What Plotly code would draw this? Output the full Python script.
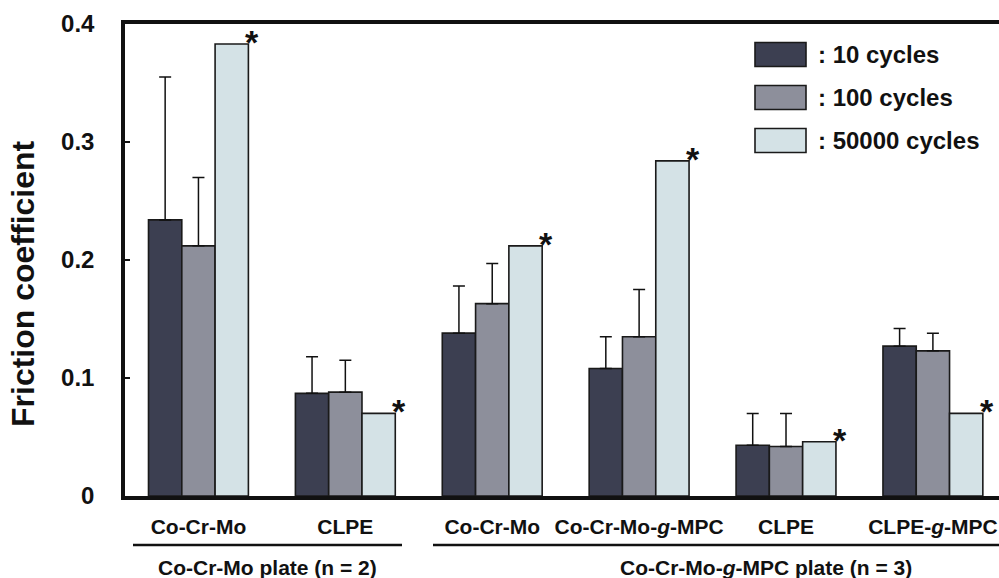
import plotly.graph_objects as go

# ---------------- data ----------------
categories = ["Co-Cr-Mo", "CLPE", "Co-Cr-Mo", "Co-Cr-Mo-<i>g</i>-MPC", "CLPE", "CLPE-<i>g</i>-MPC"]
series_names = [": 10 cycles", ": 100 cycles", ": 50000 cycles"]
cycles10 = [0.234, 0.087, 0.138, 0.108, 0.043, 0.127]
cycles10_err = [0.121, 0.031, 0.040, 0.027, 0.027, 0.015]
cycles100 = [0.212, 0.088, 0.163, 0.135, 0.042, 0.123]
cycles100_err = [0.058, 0.027, 0.034, 0.040, 0.028, 0.015]
cycles50000 = [0.383, 0.070, 0.212, 0.284, 0.046, 0.070]
significant = [True, True, True, True, True, True]
y_ticks = [0, 0.1, 0.2, 0.3, 0.4]
y_tick_labels = ["0", "0.1", "0.2", "0.3", "0.4"]
group_labels = ["Co-Cr-Mo plate (n = 2)", "Co-Cr-Mo-<i>g</i>-MPC plate (n = 3)"]

colors = ["#3c3f51", "#8d8f9b", "#d4e2e6"]
FONT = "Arial, 'Liberation Sans', Helvetica, sans-serif"
TXT = "#111111"

# plot-area pixel frame (for decorations)
L, R, T, B = 125, 999, 24, 496
W, H = 999, 578
def px(x):
    return (x - L) / (R - L)
def py(y):
    return (B - y) / (B - T)

xs = list(range(len(categories)))

fig = go.Figure()
vals = [cycles10, cycles100, cycles50000]
errs = [cycles10_err, cycles100_err, None]
for name, v, e, c in zip(series_names, vals, errs, colors):
    kw = {}
    if e is not None:
        kw["error_y"] = dict(type="data", symmetric=False, array=e,
                             arrayminus=[0] * len(e), color="#111111",
                             thickness=1.5, width=6)
    fig.add_trace(go.Bar(x=xs, y=v, name=name, marker=dict(color=c, line=dict(color="#1a1a1a", width=1.6)),
                         showlegend=False, hoverinfo="skip", **kw))

fig.update_layout(
    width=W, height=H,
    margin=dict(l=L, r=W - R, t=T, b=H - B),
    paper_bgcolor="white", plot_bgcolor="white",
    barmode="group", bargap=0.32, bargroupgap=0,
    font=dict(family=FONT, color=TXT),
    xaxis=dict(range=[-0.5, 5.45], tickvals=xs, ticktext=categories,
               showgrid=False, zeroline=False, showline=True, linewidth=3.5,
               linecolor="#111111", mirror=True, ticks="",
               tickfont=dict(size=21, family=FONT, color=TXT, weight="bold"),
               ticklabelstandoff=9),
    yaxis=dict(range=[0, 0.4], tickvals=y_ticks, ticktext=y_tick_labels,
               showgrid=False, zeroline=False, showline=True, linewidth=3.5,
               linecolor="#111111", ticks="inside", ticklen=5, tickwidth=2,
               tickcolor="#111111",
               tickfont=dict(size=24, family=FONT, color=TXT, weight="bold"),
               ticklabelstandoff=22),
)

# significance asterisks
for i, (v, s) in enumerate(zip(cycles50000, significant)):
    if s:
        fig.add_annotation(x=xs[i], y=v, xref="x", yref="y", text="<b>*</b>",
                           showarrow=False, xshift=54, yshift=2, yanchor="middle",
                           font=dict(size=34, family=FONT, color=TXT))

# y-axis title
fig.add_annotation(x=px(23), y=py(284), xref="paper", yref="paper",
                   text="<b>Friction coefficient</b>", textangle=-90, showarrow=False,
                   xanchor="center", yanchor="middle",
                   font=dict(size=32, family=FONT, color=TXT))

# group brackets
fig.add_shape(type="line", xref="paper", yref="paper", x0=px(133), x1=px(402),
              y0=py(545), y1=py(545), line=dict(color="#111111", width=2.5))
fig.add_shape(type="line", xref="paper", yref="paper", x0=px(433), x1=px(1005),
              y0=py(545), y1=py(545), line=dict(color="#111111", width=2.5))
fig.add_annotation(x=px(267.5), y=py(567), xref="paper", yref="paper",
                   text="<b>" + group_labels[0] + "</b>", showarrow=False,
                   xanchor="center", yanchor="middle",
                   font=dict(size=21, family=FONT, color=TXT))
fig.add_annotation(x=px(765.5), y=py(567), xref="paper", yref="paper",
                   text="<b>" + group_labels[1] + "</b>", showarrow=False,
                   xanchor="center", yanchor="middle",
                   font=dict(size=21, family=FONT, color=TXT))

# custom legend
for k, (name, c) in enumerate(zip(series_names, colors)):
    yc = 54.5 + 43 * k
    fig.add_shape(type="rect", xref="paper", yref="paper",
                  x0=px(755), x1=px(806), y0=py(yc - 12), y1=py(yc + 12),
                  fillcolor=c, line=dict(color="#1a1a1a", width=1.6))
    fig.add_annotation(x=px(816), y=py(yc), xref="paper", yref="paper",
                       text="<b>" + name + "</b>", showarrow=False,
                       xanchor="left", yanchor="middle",
                       font=dict(size=24, family=FONT, color=TXT))

fig.write_html("out.html", config={"displayModeBar": False},
               post_script="document.body.style.margin='0';document.body.style.overflow='hidden';")
